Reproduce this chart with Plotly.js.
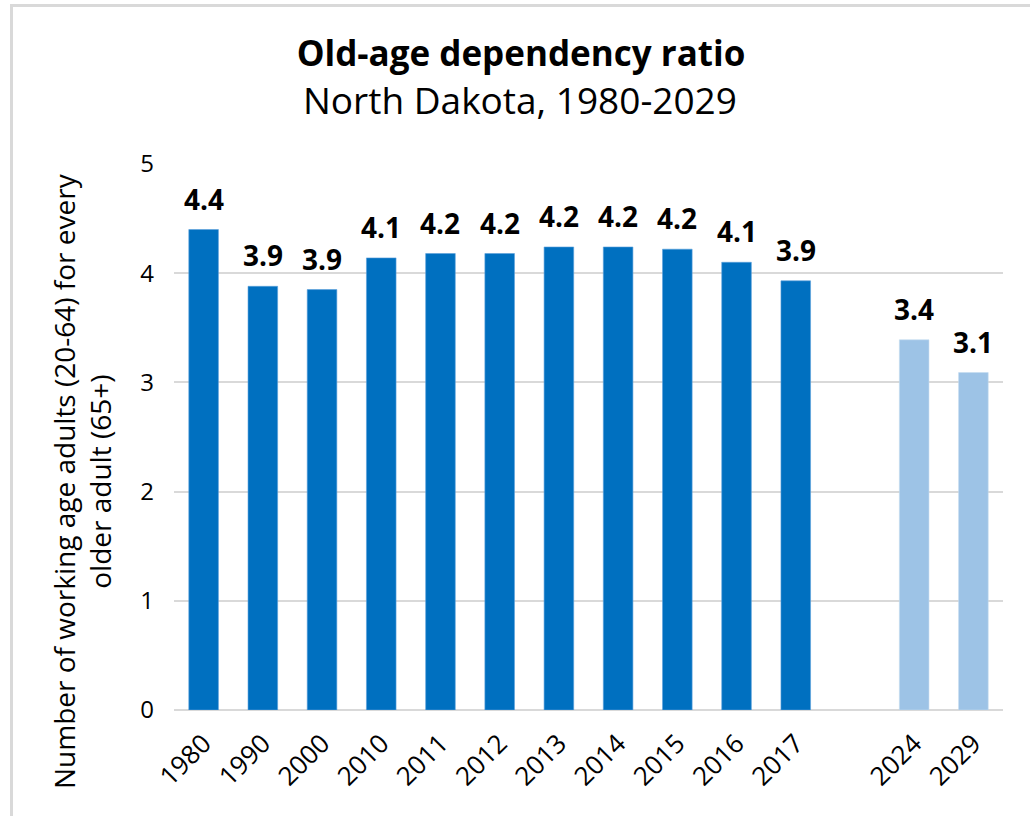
<!DOCTYPE html>
<html>
<head>
<meta charset="utf-8">
<script src="https://cdn.plot.ly/plotly-3.0.1.min.js"></script>
<style>
  html, body { margin: 0; padding: 0; background: #ffffff; overflow: hidden; }
  #wrap { position: relative; width: 1030px; height: 816px; }
  #chart { position: absolute; left: 0; top: 0; width: 1030px; height: 816px; }
  #frame { position: absolute; left: 10px; top: 4px; width: 1040px; height: 830px;
           border-left: 3px solid #d9d9d9; border-top: 3px solid #d9d9d9; pointer-events: none; }
</style>
</head>
<body>
<div id="wrap">
  <div id="chart"></div>
  <div id="frame"></div>
</div>
<script>
// Historical data
const histYears = ['1980', '1990', '2000', '2010', '2011', '2012', '2013', '2014', '2015', '2016', '2017'];
const histValues = [4.40, 3.88, 3.85, 4.14, 4.18, 4.18, 4.24, 4.24, 4.22, 4.10, 3.93];
const histLabels = ['4.4', '3.9', '3.9', '4.1', '4.2', '4.2', '4.2', '4.2', '4.2', '4.1', '3.9'];

// Projections
const projYears = ['2024', '2029'];
const projValues = [3.39, 3.09];
const projLabels = ['3.4', '3.1'];

// Category order, with an empty slot between 2017 and 2024
const gapCategory = ' ';
const categoryOrder = histYears.concat([gapCategory], projYears);

const titleText = 'Old-age dependency ratio';
const subtitleText = 'North Dakota, 1980-2029';
const yTitleText = 'Number of working age adults (20-64) for every<br>older adult (65+)';

const FONT = '"Open Sans", sans-serif';
const DARK = '#0070C0';
const LIGHT = '#9DC3E6';

// Plot-area geometry (pixels) used to place free-floating texts
const W = 1030, H = 816;
const M = { l: 174, r: 27, t: 164, b: 106 };
const plotW = W - M.l - M.r, plotH = H - M.t - M.b;
const px2paperX = px => (px - M.l) / plotW;
const px2paperY = py => (H - M.b - py) / plotH;

const traces = [
  {
    type: 'bar', x: histYears, y: histValues, name: 'Historical',
    marker: { color: DARK, line: { color: '#5aa0dc', width: 0.6 } },
    hoverinfo: 'x+y'
  },
  {
    type: 'bar', x: projYears, y: projValues, name: 'Projected',
    marker: { color: LIGHT, line: { color: '#c5dcf0', width: 0.6 } },
    hoverinfo: 'x+y'
  }
];

const annotations = [];
function addLabels(cats, vals, labels) {
  cats.forEach((c, i) => annotations.push({
    x: categoryOrder.indexOf(c), y: vals[i], xref: 'x', yref: 'y',
    text: '<b>' + labels[i] + '</b>',
    showarrow: false, yanchor: 'bottom', yshift: 10,
    font: { family: FONT, size: 28, color: '#000000' }
  }));
}
addLabels(histYears, histValues, histLabels);
addLabels(projYears, projValues, projLabels);

// Subtitle
annotations.push({
  text: subtitleText, xref: 'paper', yref: 'paper', x: px2paperX(520), y: px2paperY(100),
  xanchor: 'center', yanchor: 'middle', showarrow: false,
  font: { family: FONT, size: 37, color: '#000000' }
});

// Y-axis title (placed as annotation to match its vertical offset)
annotations.push({
  text: yTitleText, xref: 'paper', yref: 'paper', x: px2paperX(82), y: px2paperY(481),
  xanchor: 'center', yanchor: 'middle', showarrow: false, textangle: -90, align: 'center',
  font: { family: FONT, size: 28, color: '#000000' }
});

const layout = {
  width: W, height: H,
  paper_bgcolor: '#ffffff', plot_bgcolor: '#ffffff',
  margin: M,
  showlegend: false,
  barmode: 'overlay',
  bargap: 0.5,
  font: { family: FONT, color: '#000000' },
  title: {
    text: '<b>' + titleText + '</b>',
    font: { family: FONT, size: 35, color: '#000000' },
    x: 521 / W, xanchor: 'center', xref: 'container',
    y: 1 - 54 / H, yanchor: 'middle', yref: 'container'
  },
  xaxis: {
    type: 'category', categoryorder: 'array', categoryarray: categoryOrder,
    range: [-0.5, categoryOrder.length - 0.5],
    tickangle: -45, tickfont: { family: FONT, size: 26, color: '#000000' },
    showgrid: false, zeroline: false, showline: false, ticks: '',
    ticklabelstandoff: 12
  },
  yaxis: {
    range: [0, 5], dtick: 1, tick0: 0,
    tickfont: { family: FONT, size: 24, color: '#000000' },
    showgrid: true, gridcolor: '#d9d9d9', gridwidth: 2,
    zeroline: true, zerolinecolor: '#d9d9d9', zerolinewidth: 2,
    showline: false, ticks: '', ticklabelstandoff: 19
  },
  annotations: annotations
};

Plotly.newPlot('chart', traces, layout, { displayModeBar: false, staticPlot: true });
</script>
</body>
</html>
